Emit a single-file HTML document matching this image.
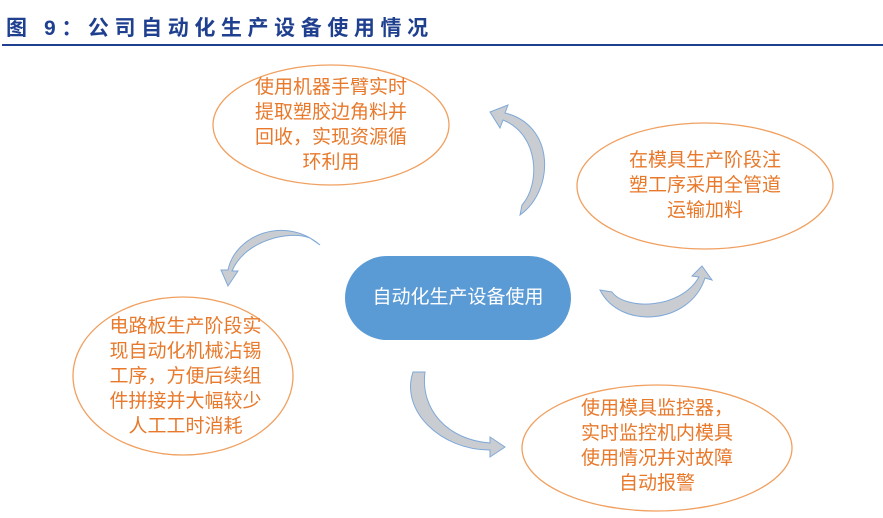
<!DOCTYPE html>
<html><head><meta charset="utf-8"><style>
body{margin:0;background:#fff;width:883px;height:518px;overflow:hidden;position:relative;font-family:"Liberation Sans","Noto Sans CJK SC",sans-serif}
.t{position:absolute;left:6px;top:12px;font-size:21px;font-weight:bold;color:#1f3f8f;letter-spacing:5.6px}
.ln{position:absolute;left:2px;top:44px;width:881px;height:2px;background:#1f3f8f}
.tx{position:absolute;text-align:center;color:#e8792b;font-size:19px;line-height:25px}
</style></head><body>
<div class="t">图 9：公司自动化生产设备使用情况</div>
<div class="ln"></div>
<svg width="883" height="518" style="position:absolute;left:0;top:0">
<g fill="none" stroke="#f0a060" stroke-width="1.3">
<ellipse cx="331" cy="125" rx="118" ry="60"/>
<ellipse cx="705" cy="186" rx="128" ry="63"/>
<ellipse cx="183" cy="376" rx="110" ry="79"/>
<ellipse cx="657" cy="448" rx="135" ry="63"/>
</g>
<rect x="345" y="256" width="226" height="84" rx="42" fill="#5b9bd5"/>
<g fill="#c9cdd2" stroke="#7fa8d8" stroke-width="1">
<path d="M520,215 C555,190 555,125 505,113 L508,105 L490,112 L500,128 L503,120 C540,135 540,185 522,205 Z"/>
<path d="M600,290 C620,330 690,325 705,278 L712,280 L702,266 L692,276 L699,277 C680,310 625,310 612,292 Z"/>
<path d="M413,372 C400,410 440,450 490,450 L490,457 L505,447 L490,437 L490,443 C448,440 420,410 425,372 Z"/>
<path d="M320,245 C285,215 235,235 228,270 L221,270 L228,286 L238,271 L232,271 C245,240 290,230 310,238 Z"/>
</g>
</svg>
<div class="tx" style="left:231px;top:75px;width:200px">使用机器手臂实时<br>提取塑胶边角料并<br>回收，实现资源循<br>环利用</div>
<div class="tx" style="left:605px;top:148px;width:200px">在模具生产阶段注<br>塑工序采用全管道<br>运输加料</div>
<div class="tx" style="left:345px;top:285px;width:226px;color:#fff">自动化生产设备使用</div>
<div class="tx" style="left:88px;top:314px;width:195px">电路板生产阶段实<br>现自动化机械沾锡<br>工序，方便后续组<br>件拼接并大幅较少<br>人工工时消耗</div>
<div class="tx" style="left:557px;top:396px;width:200px">使用模具监控器，<br>实时监控机内模具<br>使用情况并对故障<br>自动报警</div>
</body></html>
